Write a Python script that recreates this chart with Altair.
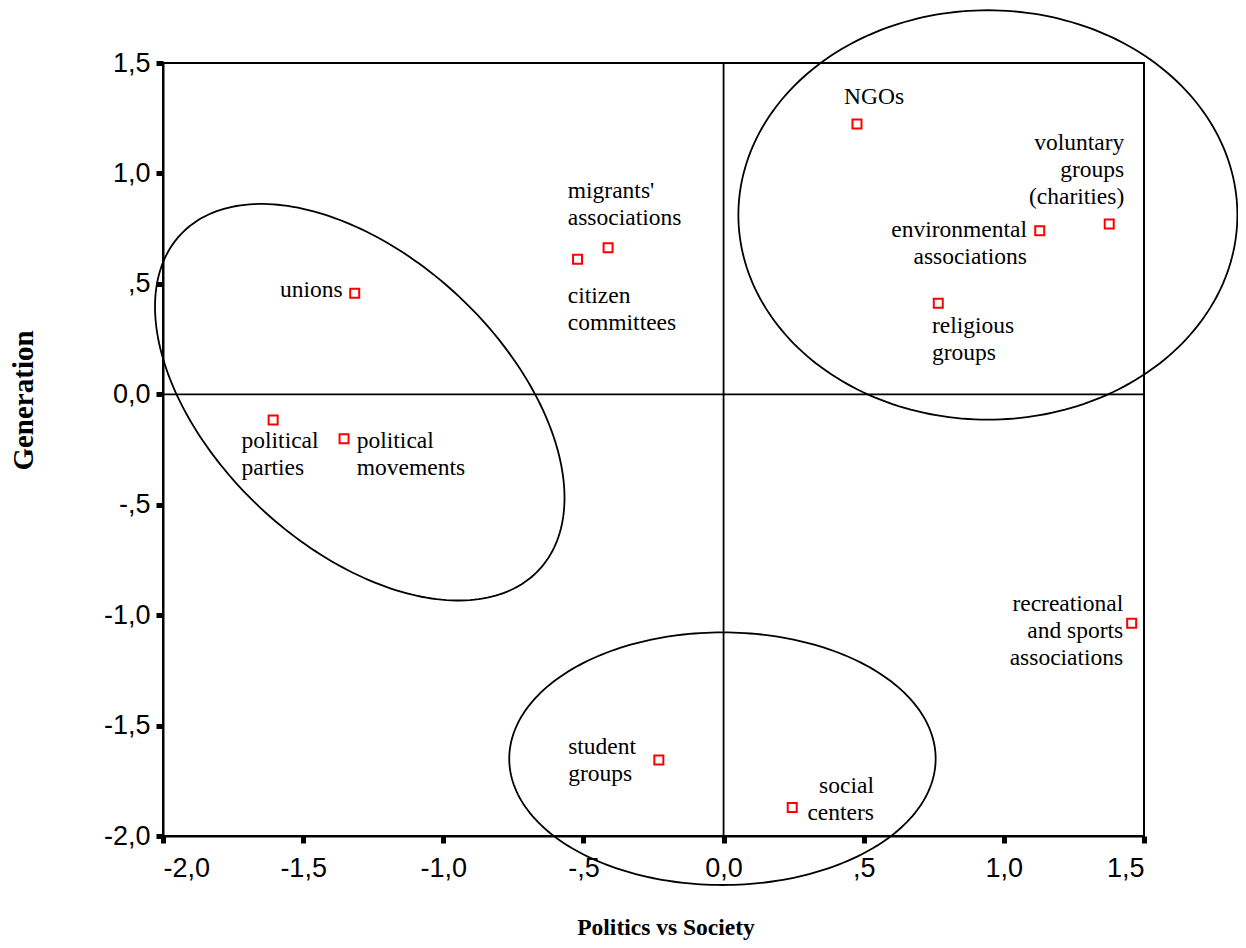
import numpy as np
import pandas as pd
import altair as alt

# ---- data ----
labels = [
    "NGOs",
    "voluntary\ngroups\n(charities)",
    "environmental\nassociations",
    "religious\ngroups",
    "migrants'\n\u00a0associations",
    "citizen\ncommittees",
    "unions",
    "political\nparties",
    "political\nmovements",
    "recreational\nand sports\nassociations",
    "student\ngroups",
    "social\ncenters",
]
politics_vs_society = [0.476, 1.376, 1.128, 0.766, -0.412, -0.521, -1.316, -1.607, -1.354, 1.456, -0.231, 0.245]
generation = [1.224, 0.771, 0.741, 0.412, 0.664, 0.611, 0.457, -0.116, -0.201, -1.037, -1.656, -1.871]

tick_values = [-2.0, -1.5, -1.0, -0.5, 0.0, 0.5, 1.0, 1.5]
reference_lines = [0.0]

# ---- label placement (pixel offsets from each point) ----
label_align = ["left", "right", "right", "left", "left", "left", "right", "left", "left", "right", "left", "right"]
label_dx = [-13, 15, -12.7, -6.3, -40.3, -9.7, -12, -31.6, 12.7, -8.4, -90.7, 81.7]
label_dy = [-20, -74, 6, 29.4, -50, 43.4, 3.4, 27.7, 9, -12.6, -6.3, -14.4]

# ---- ellipses: centre (data units), semi-axes (px), rotation (deg, screen) ----
ellipse_cx = [0.943, -0.004, -1.298]
ellipse_cy = [0.812, -1.650, -0.036]
ellipse_a = [249.5, 213.2, 245.4]
ellipse_b = [204.7, 126.3, 145.0]
ellipse_rot = [0.0, 0.0, 43.1]

W, H = 981, 773
DOM = [-2.0, 1.5]
PX_X = W / (DOM[1] - DOM[0])
PX_Y = H / (DOM[1] - DOM[0])

points = pd.DataFrame({"x": politics_vs_society, "y": generation, "label": labels,
                       "align": label_align, "dx": label_dx, "dy": label_dy})
points["lx"] = points["x"] + points["dx"] / PX_X
points["ly"] = points["y"] - points["dy"] / PX_Y

rows = []
t = np.linspace(0, 2 * np.pi, 241)
for g, (cx, cy, a, b, r) in enumerate(zip(ellipse_cx, ellipse_cy, ellipse_a, ellipse_b, ellipse_rot)):
    phi = np.deg2rad(r)
    sx = a * np.cos(t) * np.cos(phi) - b * np.sin(t) * np.sin(phi)
    sy = a * np.cos(t) * np.sin(phi) + b * np.sin(t) * np.cos(phi)
    for i in range(len(t)):
        rows.append({"g": g, "o": i, "x": cx + sx[i] / PX_X, "y": cy - sy[i] / PX_Y})
ell = pd.DataFrame(rows)

label_expr = ("(datum.value < 0 ? '-' : '') + replace((abs(datum.value) < 1 && datum.value != 0) ? "
              "substring(format(abs(datum.value), '.1f'), 1) : format(abs(datum.value), '.1f'), '.', ',')")

xscale = alt.Scale(domain=DOM, nice=False, zero=False)
yscale = alt.Scale(domain=DOM, nice=False, zero=False)

xaxis = alt.Axis(values=tick_values, labelExpr=label_expr, title="Politics vs Society",
                 titleX=502.5, titleY=98, titleAlign="center", titleBaseline="alphabetic",
                 titleFont="Liberation Serif", titleFontSize=23.5, titleFontWeight="bold",
                 labelPadding=12)
yaxis = alt.Axis(values=tick_values, labelExpr=label_expr, title="Generation",
                 titleX=-130.3, titleY=337, titleAngle=270, titleAlign="center",
                 titleBaseline="alphabetic", titleFont="Liberation Serif", titleFontSize=29,
                 titleFontWeight="bold", labelPadding=6)

ellipses = alt.Chart(ell).mark_line(color="black", strokeWidth=1.8).encode(
    x=alt.X("x:Q", scale=xscale, axis=xaxis),
    y=alt.Y("y:Q", scale=yscale, axis=yaxis),
    detail="g:N",
    order="o:Q",
)

vline = alt.Chart(pd.DataFrame({"v": reference_lines})).mark_rule(color="black", strokeWidth=1.8).encode(
    x=alt.X("v:Q", scale=xscale))
hline = alt.Chart(pd.DataFrame({"v": reference_lines})).mark_rule(color="black", strokeWidth=1.8).encode(
    y=alt.Y("v:Q", scale=yscale))

marks = alt.Chart(points).mark_point(shape="square", filled=False, color="#ff0000",
                                     size=81, strokeWidth=2, opacity=1).encode(
    x=alt.X("x:Q", scale=xscale),
    y=alt.Y("y:Q", scale=yscale),
)

text_layers = []
for al in ["left", "right"]:
    text_layers.append(
        alt.Chart(points).transform_filter(alt.datum.align == al).mark_text(
            align=al, baseline="alphabetic", font="Liberation Serif", fontSize=23.5,
            lineHeight=27, lineBreak="\n", color="black").encode(
            x=alt.X("lx:Q", scale=xscale),
            y=alt.Y("ly:Q", scale=yscale),
            text="label:N",
        )
    )

chart = alt.layer(ellipses, vline, hline, marks, *text_layers).properties(
    width=W, height=H,
    autosize=alt.AutoSizeParams(type="none"),
    padding={"left": 155, "top": 55, "right": 94, "bottom": 104},
    background="white",
).configure_view(stroke="black", strokeWidth=2).configure_axis(
    grid=False, domainColor="black", domainWidth=2, tickColor="black", tickWidth=5,
    tickSize=7, labelFont="Liberation Sans", labelFontSize=27, labelColor="black",
    titleColor="black",
)

chart.save("out.html", embed_options={"renderer": "svg", "actions": False})
